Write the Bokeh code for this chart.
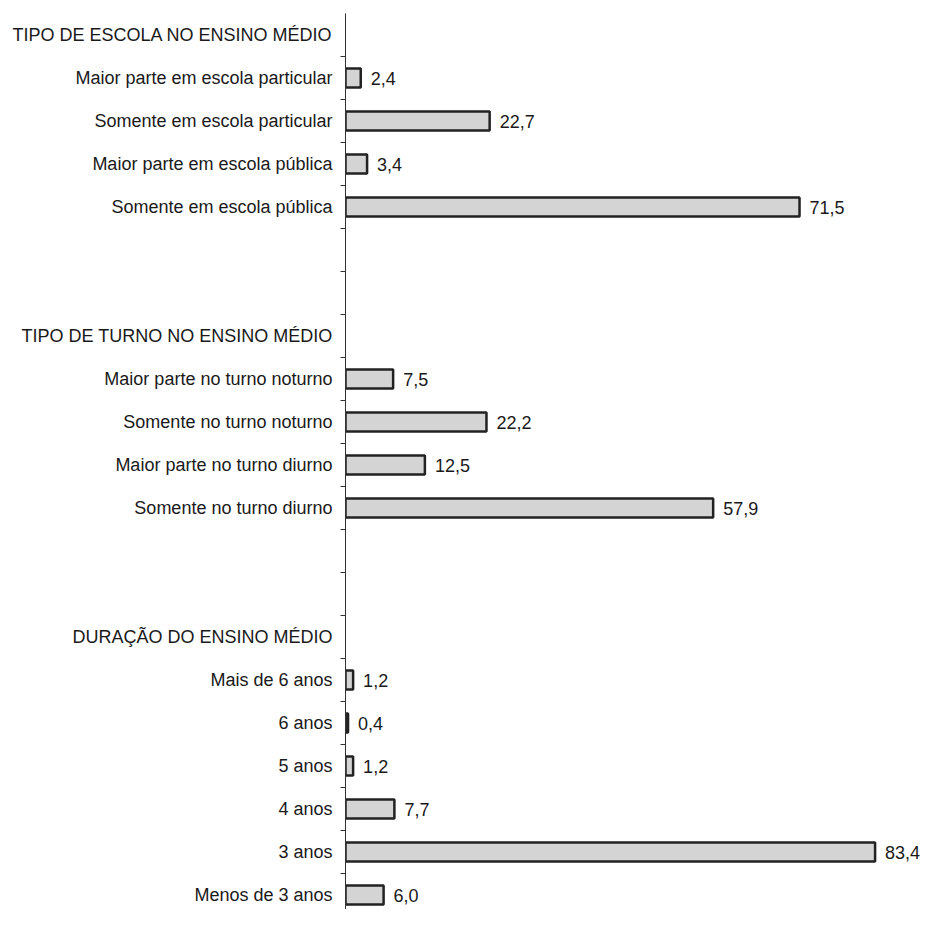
from bokeh.plotting import figure
from bokeh.models import Range1d, FixedTicker, ColumnDataSource
from bokeh.core.properties import value
from bokeh.embed import file_html
from bokeh.resources import INLINE

# ---- data ----
group_titles = ["TIPO DE ESCOLA NO ENSINO MÉDIO",
                "TIPO DE TURNO NO ENSINO MÉDIO",
                "DURAÇÃO DO ENSINO MÉDIO"]
escola_cats = ["Maior parte em escola particular", "Somente em escola particular",
               "Maior parte em escola pública", "Somente em escola pública"]
escola_vals = [2.4, 22.7, 3.4, 71.5]
turno_cats = ["Maior parte no turno noturno", "Somente no turno noturno",
              "Maior parte no turno diurno", "Somente no turno diurno"]
turno_vals = [7.5, 22.2, 12.5, 57.9]
duracao_cats = ["Mais de 6 anos", "6 anos", "5 anos", "4 anos", "3 anos", "Menos de 3 anos"]
duracao_vals = [1.2, 0.4, 1.2, 7.7, 83.4, 6.0]

groups = [(group_titles[0], escola_cats, escola_vals),
          (group_titles[1], turno_cats, turno_vals),
          (group_titles[2], duracao_cats, duracao_vals)]

# build slot layout
labels = {}
bar_y, bar_v, bar_txt = [], [], []
slot = 0
for gi, (title, cats, vals) in enumerate(groups):
    labels[slot] = title
    slot += 1
    for c, v in zip(cats, vals):
        labels[slot] = c
        bar_y.append(slot)
        bar_v.append(v)
        bar_txt.append(f"{v:.1f}".replace(".", ","))
        slot += 1
    if gi < len(groups) - 1:
        slot += 2
n_slots = slot

src = ColumnDataSource(dict(y=bar_y, v=bar_v, t=bar_txt))

FONT = "Liberation Sans"
W, H = 922, 909
BORDER_L, BORDER_T = 345, 13
slot_px = 43.0
px_per_unit = 6.35
frame_h = H - BORDER_T
frame_w = W - BORDER_L

p = figure(width=W, height=H, output_backend="svg", toolbar_location=None,
           x_range=Range1d(0, frame_w / px_per_unit),
           y_range=Range1d(-0.5 + frame_h / slot_px, -0.5),
           x_axis_location=None, min_border_left=BORDER_L, min_border_top=BORDER_T,
           min_border_bottom=0, min_border_right=0)
p.outline_line_color = None
p.xgrid.visible = False
p.ygrid.visible = False
p.background_fill_color = "white"

yax = p.yaxis[0]
yax.ticker = FixedTicker(ticks=list(range(n_slots)),
                         minor_ticks=[i + 0.5 for i in range(n_slots - 1)])
yax.major_label_overrides = {i: labels.get(i, "") for i in range(n_slots)}
yax.major_tick_out = 0
yax.major_tick_in = 0
yax.minor_tick_out = 5
yax.minor_tick_in = 0
yax.minor_tick_line_color = "#333333"
yax.axis_line_color = "#333333"
yax.axis_line_width = 1
yax.major_label_standoff = 8
yax.major_label_text_font = FONT
yax.major_label_text_font_size = "18px"
yax.major_label_text_color = "#1a1a1a"

p.hbar(y="y", left=0, right="v", height=0.44, source=src,
       fill_color="#d4d4d4", line_color="#222222", line_width=2.5)
p.text(x="v", y="y", text="t", source=src, x_offset=10, y_offset=0,
       text_baseline="middle", text_align="left",
       text_font=value(FONT), text_font_size="18px", text_color="#1a1a1a")

open("out.html", "w").write(file_html(p, INLINE))
